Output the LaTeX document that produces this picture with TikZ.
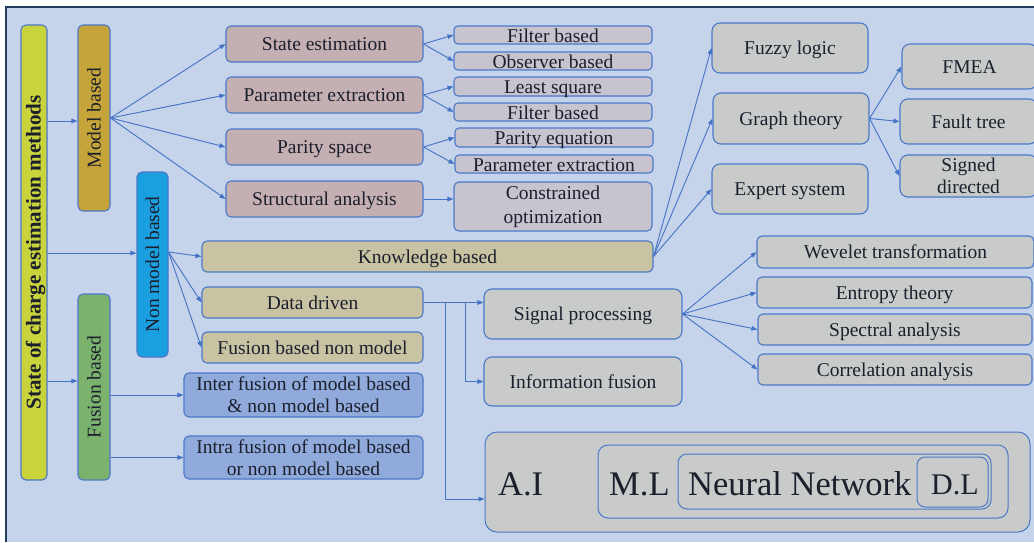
\documentclass[tikz,border=0pt]{standalone}
\usepackage{fontspec}
\setmainfont{Liberation Serif}
\usetikzlibrary{arrows.meta,calc}

\definecolor{pagebg}{HTML}{C5D3EB}
\definecolor{framenavy}{HTML}{243A5E}
\definecolor{edgeblue}{HTML}{4C78C8}
\definecolor{linkblue}{HTML}{4472C4}
\definecolor{ink}{HTML}{1C1F2C}
\definecolor{socfill}{HTML}{C9D33C}
\definecolor{modelfill}{HTML}{C5A43A}
\definecolor{nonmodelfill}{HTML}{1A9FE0}
\definecolor{fusionfill}{HTML}{7BB26E}
\definecolor{rosefill}{HTML}{C4AFB3}
\definecolor{lilacfill}{HTML}{C7C3CF}
\definecolor{khakifill}{HTML}{C7C3A3}
\definecolor{bluefill}{HTML}{90AADC}
\definecolor{greyfill}{HTML}{C8CBCA}

\begin{document}
\begin{tikzpicture}[x=1pt, y=-1pt,
  every node/.style={text=ink},
  frame/.style={draw=edgeblue, line width=1.1pt, rounded corners=5pt, inner sep=0pt,
                font=\fontsize{19.5}{22}\selectfont},
  box/.style={frame, text height=13pt, text depth=0pt},
  twoline/.style={frame, align=center},
  sub/.style={frame, rounded corners=4pt, text height=15pt, text depth=1pt},
  vbar/.style={box, rotate=90},
  nest/.style={frame, line width=1pt, fill=greyfill},
  biglabel/.style={inner sep=0pt, anchor=base west, font=\fontsize{34.5}{40}\selectfont},
  wh/.style 2 args={minimum width=#1pt, minimum height=#2pt},
  link/.style={draw=linkblue, line width=0.9pt, -{Triangle[length=6pt,width=4.5pt]}}
]
\useasboundingbox (0,0) rectangle (1034,542);
\fill[white] (0,0) rectangle (1034,542);
\fill[pagebg] (6,7) rectangle (1034,542);
\draw[framenavy, line width=1.3pt] (6,542) -- (6,7) -- (1034,7);

% ---- left column: root and the three families
\node[vbar, fill=socfill, wh={455}{26}, font=\bfseries\fontsize{21}{24}\selectfont]
  (soc) at (34,252.5) {State of charge estimation methods};
\node[vbar, fill=modelfill, wh={186}{32}] (mb) at (94,118) {Model based};
\node[vbar, fill=nonmodelfill, wh={185}{31}] (nm) at (152.5,264.5) {Non model based};
\node[vbar, fill=fusionfill, wh={186}{32}] (fu) at (94,387) {Fusion based};

% ---- model based branch
\node[box, fill=rosefill, wh={197}{36}] (se) at (324.5,44) {State estimation};
\node[box, fill=rosefill, wh={197}{36}] (pe) at (324.5,95) {Parameter extraction};
\node[box, fill=rosefill, wh={197}{36}] (ps) at (324.5,147) {Parity space};
\node[box, fill=rosefill, wh={197}{36}] (sa) at (324.5,199) {Structural analysis};

\node[sub, fill=lilacfill, wh={198}{18}] (fb1) at (553,35) {Filter based};
\node[sub, fill=lilacfill, wh={198}{18}] (ob) at (553,61) {Observer based};
\node[sub, fill=lilacfill, wh={198}{19}] (ls) at (553,86.5) {Least square};
\node[sub, fill=lilacfill, wh={198}{18}] (fb2) at (553,112) {Filter based};
\node[sub, fill=lilacfill, wh={198}{19}] (pq) at (554,137.5) {Parity equation};
\node[sub, fill=lilacfill, wh={198}{18}] (px) at (554,164) {Parameter extraction};
\node[twoline, fill=lilacfill, wh={198}{49}, font=\fontsize{19.5}{24}\selectfont]
  (co) at (553,206.5) {Constrained\\optimization};

% ---- non model based branch
\node[box, fill=khakifill, wh={451}{31}] (kb) at (427.5,256.5) {Knowledge based};
\node[box, fill=khakifill, wh={221}{31}] (dd) at (312.5,302.5) {Data driven};
\node[box, fill=khakifill, wh={221}{31}] (fbn) at (312.5,347.5) {Fusion based non model};

% ---- fusion based branch
\node[twoline, fill=bluefill, wh={239}{44}] (inter) at (303.5,395) {Inter fusion of model based\\\& non model based};
\node[twoline, fill=bluefill, wh={239}{43}] (intra) at (303.5,457.5) {Intra fusion of model based\\or non model based};

% ---- knowledge based methods
\node[box, fill=greyfill, rounded corners=8pt, wh={156}{50}] (fz) at (790,48) {Fuzzy logic};
\node[box, fill=greyfill, rounded corners=8pt, wh={156}{51}] (gt) at (791,118.5) {Graph theory};
\node[box, fill=greyfill, rounded corners=8pt, wh={156}{50}] (es) at (790,189) {Expert system};
\node[box, fill=greyfill, rounded corners=8pt, wh={135}{45}] (fmea) at (969.5,66.5) {FMEA};
\node[box, fill=greyfill, rounded corners=8pt, wh={137}{45}] (ft) at (968.5,121.5) {Fault tree};
\node[twoline, fill=greyfill, rounded corners=8pt, wh={137}{42}] (sd) at (968.5,176) {Signed\\directed};

% ---- data driven methods
\node[box, fill=greyfill, rounded corners=8pt, wh={198}{50}] (sp) at (583,314) {Signal processing};
\node[box, fill=greyfill, rounded corners=8pt, wh={198}{49}] (inf) at (583,381.5) {Information fusion};

\node[box, fill=greyfill, wh={277}{32}] (wt) at (895.5,252) {Wevelet transformation};
\node[box, fill=greyfill, wh={275}{31}] (et) at (894.5,292.5) {Entropy theory};
\node[box, fill=greyfill, wh={274}{31}] (spa) at (895,329.5) {Spectral analysis};
\node[box, fill=greyfill, wh={274}{31}] (ca) at (895,369.5) {Correlation analysis};

% ---- nested A.I / M.L / neural network / D.L
\node[nest, rounded corners=12pt, wh={545}{100}] (ai) at (757.5,482) {};
\node[nest, rounded corners=10pt, wh={410}{73}] (ml) at (803,481.5) {};
\node[nest, rounded corners=9pt, wh={313}{55}] (nn) at (834.5,481.5) {};
\node[nest, rounded corners=8pt, wh={71}{50}] (dl) at (952.5,482) {};
\node[biglabel] (ait) at (498,495) {A.I};
\node[biglabel] (mlt) at (609,495) {M.L};
\node[biglabel] (nnt) at (688,495) {Neural Network};
\node[biglabel, font=\fontsize{30}{34}\selectfont] (dlt) at (931,494) {D.L};

% ---- connectors
\draw[link] (soc.south |- 0,121) -- (mb.north |- 0,121);
\draw[link] (soc.south |- 0,253) -- (nm.north |- 0,253);
\draw[link] (soc.south |- 0,381) -- (fu.north |- 0,381);

\foreach \t in {se,pe,ps,sa} \draw[link] (mb.south) -- (\t.west);
\draw[link] (se.east) -- (fb1.west);
\draw[link] (se.east) -- (ob.west);
\draw[link] (pe.east) -- (ls.west);
\draw[link] (pe.east) -- (fb2.west);
\draw[link] (ps.east) -- (pq.west);
\draw[link] (ps.east) -- (px.west);
\draw[link] (sa.east) -- (sa.east -| co.west);

\coordinate (nmout) at (nm.south |- 0,252);
\foreach \t in {kb,dd,fbn} \draw[link] (nmout) -- (\t.west);

\draw[link] (fu.south |- inter.west) -- (inter.west);
\draw[link] (fu.south |- intra.west) -- (intra.west);

\foreach \t in {fz,gt,es} \draw[link] (kb.east) -- (\t.west);
\foreach \t in {fmea,ft,sd} \draw[link] (gt.east) -- (\t.west);

\coordinate (tapA) at ($(dd.east)+(42,0)$);
\coordinate (tapB) at ($(dd.east)+(22,0)$);
\draw[link] (dd.east) -- (dd.east -| sp.west);
\draw[link] (tapA) |- (inf.west);
\draw[link] (tapB) |- ($(ai.west)+(0,17)$);

\foreach \t in {wt,et,spa,ca} \draw[link] (sp.east) -- (\t.west);
\end{tikzpicture}
\end{document}
